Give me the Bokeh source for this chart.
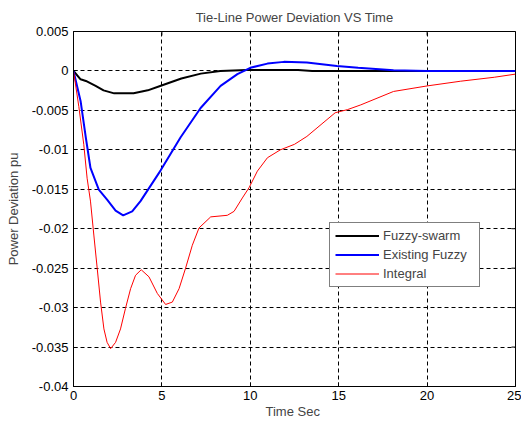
import math
from bokeh.plotting import figure
from bokeh.models import Legend, LegendItem, FixedTicker, Range1d
from bokeh.embed import file_html
from bokeh.resources import INLINE

t_swarm = [0, 0.4, 0.7, 1.25, 1.7, 2.3, 3.4, 4.2, 4.9, 6.1, 7.2, 8.3, 9.8, 12.7, 13.5, 16, 21.2]
v_swarm = [0, -0.00106, -0.00127, -0.0019, -0.00246, -0.00284, -0.00284, -0.00246, -0.0019,
           -0.00095, -0.00034, 0, 0.00013, 0.00013, 0.0, 0.0, 0.0]

t_exist = [0, 0.4, 0.7, 0.96, 1.43, 1.9, 2.38, 2.81, 3.32, 3.79, 4.93, 6.06, 7.19, 8.32, 9.27,
           10.0, 10.97, 11.9, 13.2, 14.9, 16.1, 18.1, 20.0, 25.0]
v_exist = [0, -0.0038, -0.0085, -0.0123, -0.01505, -0.0163, -0.0177, -0.0183, -0.0178, -0.0165,
           -0.0126, -0.0084, -0.0047, -0.0019, -0.0004, 0.0004, 0.00093, 0.00115, 0.00106,
           0.00064, 0.0004, 0.0001, 0.0, 0.0]

t_integral = [0, 0.3, 0.58, 0.77, 0.96, 1.15, 1.34, 1.53, 1.72, 1.9, 2.1, 2.38, 2.66, 2.94, 3.23,
              3.51, 3.83, 4.27, 4.74, 5.21, 5.59, 5.97, 6.34, 6.72, 7.1, 7.76, 8.7, 9.08, 9.55,
              9.93, 10.4, 10.97, 11.7, 12.5, 13.2, 14.0, 14.8, 15.5, 16.25, 18.1, 20.0, 21.9,
              23.8, 25]
v_integral = [0, -0.0045, -0.0093, -0.0136, -0.0165, -0.0208, -0.025, -0.0293, -0.0327, -0.0344,
              -0.0352, -0.0344, -0.0327, -0.0301, -0.0276, -0.0259, -0.0252, -0.0261, -0.0282,
              -0.0296, -0.0293, -0.0276, -0.0250, -0.0221, -0.0199, -0.0185, -0.0183, -0.0178,
              -0.0161, -0.0148, -0.0127, -0.0110, -0.0100, -0.0093, -0.0083, -0.0068, -0.0053,
              -0.0049, -0.0043, -0.0026, -0.0019, -0.0013, -0.0008, -0.0004]

x_ticks = [0, 5, 10, 15, 20, 25]
y_ticks = [-0.04, -0.035, -0.03, -0.025, -0.02, -0.015, -0.01, -0.005, 0, 0.005]
y_tick_labels = {-0.04: "-0.04", -0.035: "-0.035", -0.03: "-0.03", -0.025: "-0.025", -0.02: "-0.02",
                 -0.015: "-0.015", -0.01: "-0.01", -0.005: "-0.005", 0: "0", 0.005: "0.005"}

FONT = "Liberation Sans"
FS = "13px"

p = figure(width=521, height=421, output_backend="svg", toolbar_location=None,
           x_range=Range1d(x_ticks[0], x_ticks[-1]), y_range=Range1d(y_ticks[0], y_ticks[-1]),
           title="Tie-Line Power Deviation VS Time",
           min_border_left=73, min_border_right=6, min_border_top=31, min_border_bottom=35)
p.background_fill_color = "white"
p.border_fill_color = "white"
p.outline_line_color = "black"
p.title.align = "center"
p.title.text_font = FONT
p.title.text_font_size = FS
p.title.text_font_style = "normal"
p.title.standoff = 14

for ax in [p.xaxis[0], p.yaxis[0]]:
    ax.major_label_text_font = FONT
    ax.major_label_text_font_size = FS
    ax.axis_label_text_font = FONT
    ax.axis_label_text_font_size = FS
    ax.axis_label_text_font_style = "normal"
    ax.major_tick_in = 4
    ax.major_tick_out = 0
    ax.minor_tick_in = 0
    ax.minor_tick_out = 0
    ax.axis_line_color = "black"
    ax.major_tick_line_color = "black"
    ax.major_label_text_color = "black"

p.xaxis[0].ticker = FixedTicker(ticks=x_ticks)
p.yaxis[0].ticker = FixedTicker(ticks=y_ticks)
p.yaxis[0].major_label_overrides = y_tick_labels
p.xaxis[0].axis_label = "Time  Sec"
p.yaxis[0].axis_label = "Power Deviation pu"
p.xaxis[0].major_label_standoff = 4
p.yaxis[0].major_label_standoff = 5
p.xaxis[0].axis_label_standoff = 1
p.yaxis[0].axis_label_standoff = 8

p.xgrid.ticker = FixedTicker(ticks=x_ticks)
p.ygrid.ticker = FixedTicker(ticks=y_ticks)
for g in [p.xgrid[0], p.ygrid[0]]:
    g.grid_line_color = "black"
    g.grid_line_dash = "4 3"
    g.grid_line_width = 1
    g.grid_line_alpha = 1.0

# mirrored inward ticks on the top and right edges of the box
p.scatter(x=x_ticks, y=[y_ticks[-1]] * len(x_ticks), marker="dash", size=8, angle=math.pi / 2,
          line_color="black", line_width=1)
p.scatter(x=[x_ticks[-1]] * len(y_ticks), y=y_ticks, marker="dash", size=8, angle=0,
          line_color="black", line_width=1)

r1 = p.line(t_swarm, v_swarm, line_color="black", line_width=2)
r2 = p.line(t_exist, v_exist, line_color="#0000ff", line_width=2)
r3 = p.line(t_integral, v_integral, line_color="#ff0000", line_width=1)

legend = Legend(items=[LegendItem(label="Fuzzy-swarm", renderers=[r1]),
                       LegendItem(label="Existing Fuzzy", renderers=[r2]),
                       LegendItem(label="Integral", renderers=[r3])],
                location=(256, 99), padding=5, spacing=4, glyph_width=44, glyph_height=15,
                label_height=15, label_width=91, label_standoff=4, margin=0,
                label_text_font=FONT, label_text_font_size=FS,
                border_line_color="black", border_line_width=1,
                background_fill_color="white", background_fill_alpha=1.0)
p.add_layout(legend, "center")

open("out.html", "w").write(file_html(p, INLINE))
